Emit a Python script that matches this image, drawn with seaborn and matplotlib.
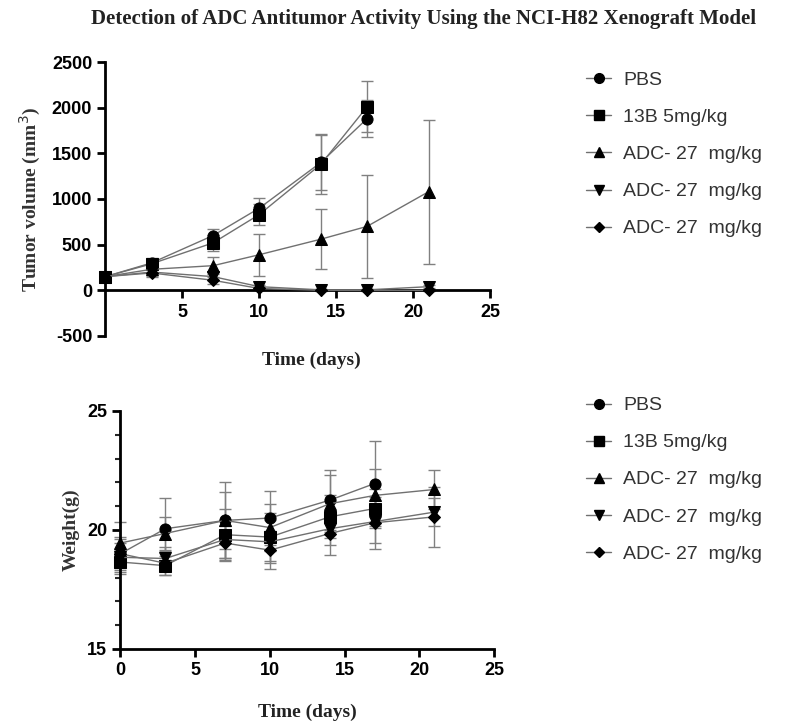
import matplotlib
matplotlib.use('Agg')
import matplotlib.pyplot as plt
from matplotlib.lines import Line2D
from matplotlib.ticker import MultipleLocator
import seaborn as sns
import pandas as pd

sns.set_style("ticks")
plt.rcParams['font.family'] = ['Liberation Sans', 'DejaVu Sans']
plt.rcParams['axes.unicode_minus'] = False

# ---------------------------------------------------------------------------
# Data (mean and SD)
# ---------------------------------------------------------------------------
groups = ['PBS', '13B 5mg/kg', 'ADC- 27  mg/kg', 'ADC- 27  mg/kg', 'ADC- 27  mg/kg']
markers = ['o', 's', '^', 'v', 'D']

days_short = [0, 3, 7, 10, 14, 17]
days_long = [0, 3, 7, 10, 14, 17, 21]

# Tumor volume (mm3)
vol_pbs = [150, 300, 600, 900, 1400, 1880]
vol_pbs_sd = [20, 50, 70, 110, 300, 200]
vol_13b = [150, 290, 520, 830, 1380, 2010]
vol_13b_sd = [20, 50, 90, 120, 330, 280]
vol_adc_up = [150, 230, 270, 390, 560, 700, 1080]
vol_adc_up_sd = [20, 40, 90, 230, 330, 560, 790]
vol_adc_down = [150, 200, 150, 40, 5, 5, 40]
vol_adc_down_sd = [20, 40, 40, 20, 5, 5, 20]
vol_adc_dia = [150, 190, 110, 20, 0, 0, 0]
vol_adc_dia_sd = [20, 40, 40, 15, 5, 5, 5]

# Body weight (g)
wt_pbs = [19.0, 20.05, 20.4, 20.5, 21.25, 21.95]
wt_pbs_sd = [0.6, 1.3, 1.6, 1.15, 1.25, 1.8]
wt_13b = [18.65, 18.5, 19.8, 19.7, 20.55, 20.9]
wt_13b_sd = [0.5, 0.4, 1.1, 1.0, 0.9, 0.8]
wt_adc_up = [19.45, 19.85, 20.4, 20.1, 21.1, 21.45, 21.7]
wt_adc_up_sd = [0.9, 0.7, 1.2, 1.0, 1.2, 1.1, 0.8]
wt_adc_down = [18.85, 18.8, 19.6, 19.5, 20.05, 20.35, 20.75]
wt_adc_down_sd = [0.6, 0.5, 0.8, 0.9, 0.7, 0.9, 0.6]
wt_adc_dia = [19.0, 18.6, 19.45, 19.15, 19.85, 20.3, 20.55]
wt_adc_dia_sd = [0.7, 0.5, 0.7, 0.8, 0.9, 1.1, 1.25]

vol_series = [(days_short, vol_pbs, vol_pbs_sd), (days_short, vol_13b, vol_13b_sd),
              (days_long, vol_adc_up, vol_adc_up_sd), (days_long, vol_adc_down, vol_adc_down_sd),
              (days_long, vol_adc_dia, vol_adc_dia_sd)]
wt_series = [(days_short, wt_pbs, wt_pbs_sd), (days_short, wt_13b, wt_13b_sd),
             (days_long, wt_adc_up, wt_adc_up_sd), (days_long, wt_adc_down, wt_adc_down_sd),
             (days_long, wt_adc_dia, wt_adc_dia_sd)]

line_color = '#707070'
err_color = '#808080'
serif = ['Liberation Serif', 'DejaVu Serif']


def draw_panel(ax, series):
    for (x, y, sd), mk in zip(series, markers):
        df = pd.DataFrame({'day': x, 'val': y})
        eb = ax.errorbar(x, y, yerr=sd, fmt='none', ecolor=err_color,
                         elinewidth=1, capsize=4, capthick=1, zorder=1)
        for art in eb.get_children():
            art.set_clip_on(False)
        sns.lineplot(data=df, x='day', y='val', ax=ax, color=line_color,
                     linewidth=1, marker=mk, markersize=8 if mk != 'D' else 6,
                     markerfacecolor='black', markeredgecolor='black', zorder=3,
                     clip_on=False)
    for side in ['top', 'right']:
        ax.spines[side].set_visible(False)
    for side in ['left', 'bottom']:
        ax.spines[side].set_linewidth(2)
        ax.spines[side].set_color('black')
    ax.tick_params(width=2, length=6, labelsize=13, colors='black')


fig = plt.figure(figsize=(7.92, 7.21), dpi=100)

# ---------------------------------------------------------------------------
# Top panel: tumor volume
# ---------------------------------------------------------------------------
ax1 = fig.add_axes([0.133, 0.534, 0.486, 0.380])
draw_panel(ax1, vol_series)
ax1.set_xlim(0, 25)
ax1.set_ylim(-500, 2500)
ax1.spines['bottom'].set_position(('data', 0))
ax1.set_xticks([5, 10, 15, 20, 25])
ax1.set_yticks([-500, 0, 500, 1000, 1500, 2000, 2500])
for lab in ax1.get_xticklabels() + ax1.get_yticklabels():
    lab.set_fontweight('bold')
ax1.set_xlabel('')
ax1.set_ylabel('Tumor volume (mm$^3$)', family=serif, fontweight='bold',
               fontsize=14, color='#333333', labelpad=6)
fig.text(0.393, 0.500, 'Time (days)', family=serif, fontweight='bold',
         fontsize=14, ha='center', va='center', color='#222222')

# ---------------------------------------------------------------------------
# Bottom panel: body weight
# ---------------------------------------------------------------------------
ax2 = fig.add_axes([0.152, 0.100, 0.472, 0.330])
draw_panel(ax2, wt_series)
ax2.set_xlim(0, 25)
ax2.set_ylim(15, 25)
ax2.set_xticks([0, 5, 10, 15, 20, 25])
ax2.set_yticks([15, 20, 25])
ax2.yaxis.set_minor_locator(MultipleLocator(1))
ax2.tick_params(axis='y', which='minor', width=1.5, length=3.5)
for lab in ax2.get_xticklabels() + ax2.get_yticklabels():
    lab.set_fontweight('bold')
ax2.set_xlabel('Time (days)', family=serif, fontweight='bold', fontsize=14,
               color='#222222', labelpad=18)
ax2.set_ylabel('Weight(g)', family=serif, fontweight='bold', fontsize=14,
               color='#333333', labelpad=5)

# ---------------------------------------------------------------------------
# Legends
# ---------------------------------------------------------------------------
handles = [Line2D([0], [0], color=line_color, linewidth=1, marker=mk,
                  markersize=7 if mk != 'D' else 5, markerfacecolor='black',
                  markeredgecolor='black') for mk in markers]
for ytop in [0.925, 0.474]:
    leg = fig.legend(handles, groups, loc='upper left', bbox_to_anchor=(0.718, ytop),
                     frameon=False, fontsize=14, handlelength=1.3,
                     labelspacing=1.0, handletextpad=0.6)
    for t in leg.get_texts():
        t.set_color('#333333')

fig.suptitle('Detection of ADC Antitumor Activity Using the NCI-H82 Xenograft Model',
             x=0.535, y=0.988, family=serif, fontweight='bold', fontsize=15,
             color='#222222')

plt.savefig('out.png', dpi=100)
plt.close()
